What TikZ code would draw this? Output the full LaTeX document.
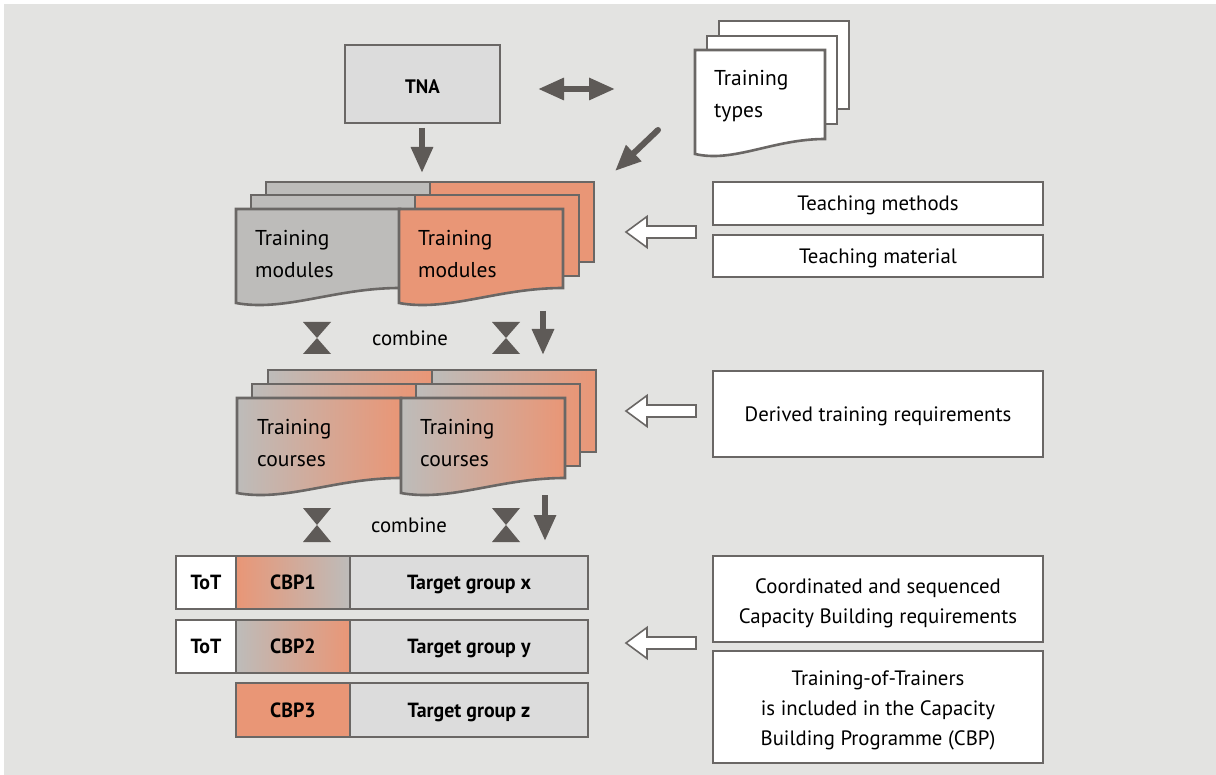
\documentclass[tikz,border=0pt]{standalone}
\usepackage{fontspec}
\setmainfont{PT Sans}
\newfontfamily\cbfont{PT Sans}[FakeStretch=0.97]
\usetikzlibrary{arrows.meta}
\definecolor{bg}{HTML}{E3E3E1}
\definecolor{edge}{HTML}{6A6765}
\definecolor{arr}{HTML}{5E5A57}
\definecolor{gfill}{HTML}{BDBCBA}
\definecolor{ofill}{HTML}{E99676}
\definecolor{lgfill}{HTML}{DCDCDC}
\newcommand\DocPage[5]{\path[pageline,#5] (#1,#2) -- (#3,#2) -- (#3,{#4-15}) .. controls ({#3-0.4*(#3-#1)},{#4-15}) and ({#1+0.3*(#3-#1)},{#4+9}) .. (#1,#4) -- cycle;}
\newcommand\BackPage[5]{\path[pageline,#5] (#1,#2) rectangle (#3,#4);}
\newcommand\BowTie[3]{\fill[arr] ({#1-14},{#2-#3}) -- ({#1+14},{#2-#3}) -- (#1,#2) -- cycle ({#1-14},{#2+#3}) -- ({#1+14},{#2+#3}) -- (#1,#2) -- cycle;}
\begin{document}
\begin{tikzpicture}[x=1pt,y=-1pt,
  pageline/.style={draw=edge,line width=2.6pt,line join=miter},
  grad/.style={left color=gfill,right color=ofill},
  dgrad/.style={left color=ofill,right color=gfill},
  wbox/.style={draw=edge,line width=2.6pt,fill=white,align=center,inner sep=0pt},
  cell/.style={draw=edge,line width=2.6pt,inner sep=0pt,text height=14.5pt,text depth=0pt,font=\cbfont\bfseries\fontsize{20.5}{24}\selectfont},
  doctext/.style={anchor=west,align=left,inner sep=0pt,font=\fontsize{21.5}{32}\selectfont},
  boxtext/.style={text height=14.5pt,text depth=0pt,font=\fontsize{20.8}{30}\selectfont},
  mltext/.style={align=center,inner sep=0pt,font=\fontsize{20.8}{30}\selectfont},
  bigarrow/.style={draw=arr,line width=6pt,-{Triangle[length=26pt,width=21pt]}},
  dblarrow/.style={draw=arr,line width=6pt,{Triangle[length=26pt,width=21pt]}-{Triangle[length=26pt,width=21pt]}},
  hollow/.style={draw=edge,fill=white,line width=1.6pt,line join=miter}
]
\fill[white] (0,0) rectangle (1216,775);
\fill[bg] (4,4) rectangle (1216,775);
\useasboundingbox (0,0) rectangle (1216,775);

% TNA
\node[draw=edge,line width=2.6pt,fill=lgfill,minimum width=155pt,minimum height=78pt,inner sep=0pt,text height=13.5pt,text depth=0pt,font=\cbfont\bfseries\fontsize{19.5}{22}\selectfont] (tna) at (422.5,84) {\raisebox{-2.5pt}{TNA}};

% Training types stack
\BackPage{719}{21}{849}{109}{fill=white}
\BackPage{707}{36}{837}{124}{fill=white}
\DocPage{695}{50}{825}{154}{fill=white}
\node[doctext] (types) at (714,96) {Training\\types};

% Training modules stacks
\BackPage{266}{182}{430}{262}{fill=gfill}
\BackPage{430}{182}{594}{262}{fill=ofill}
\BackPage{251}{195}{415}{276}{fill=gfill}
\BackPage{415}{195}{579}{276}{fill=ofill}
\DocPage{236}{209}{400}{303}{fill=gfill}
\DocPage{399}{209}{563}{303}{fill=ofill}
\node[doctext] (modA) at (255,254) {Training\\modules};
\node[doctext] (modB) at (418,254) {Training\\modules};

% Training courses stacks
\BackPage{268}{370}{432}{452}{grad}
\BackPage{432}{370}{596}{452}{grad}
\BackPage{252}{384}{416}{466}{grad}
\BackPage{416}{384}{580}{466}{grad}
\DocPage{237}{398}{401}{493}{grad}
\DocPage{401}{398}{565}{493}{grad}
\node[doctext] (crsA) at (257,443.5) {Training\\courses};
\node[doctext] (crsB) at (420,443.5) {Training\\courses};

% combine rows
\BowTie{317}{338}{16}
\BowTie{506}{338}{16}
\node[boxtext] (comb1) at (410,338) {combine};
\BowTie{317}{525}{17}
\BowTie{506}{525}{17}
\node[boxtext] (comb2) at (409,525) {combine};

% CBP rows
\node[cell,fill=white,minimum width=60pt,minimum height=53pt] (tot1) at (206,582.5) {ToT};
\node[cell,dgrad,minimum width=114pt,minimum height=53pt] (cbp1) at (293,582.5) {CBP1};
\node[cell,fill=lgfill,minimum width=238pt,minimum height=53pt] (tgx) at (469,582.5) {Target group x};
\node[cell,fill=white,minimum width=60pt,minimum height=53pt] (tot2) at (206,646.5) {ToT};
\node[cell,grad,minimum width=114pt,minimum height=53pt] (cbp2) at (293,646.5) {CBP2};
\node[cell,fill=lgfill,minimum width=238pt,minimum height=53pt] (tgy) at (469,646.5) {Target group y};
\node[cell,fill=ofill,minimum width=114pt,minimum height=54pt] (cbp3) at (293,710) {CBP3};
\node[cell,fill=lgfill,minimum width=238pt,minimum height=54pt] (tgz) at (469,710) {Target group z};

% right boxes
\node[wbox,boxtext,minimum width=330pt,minimum height=43pt] (tmeth) at (878,203.5) {Teaching methods};
\node[wbox,boxtext,minimum width=330pt,minimum height=42pt] (tmat) at (878,256) {Teaching material};
\node[wbox,boxtext,minimum width=330pt,minimum height=86pt] (dtr) at (878,414) {Derived training requirements};
\node[wbox,minimum width=330pt,minimum height=86pt] (coord) at (878,599) {};
\node[mltext] (coordT) at ([yshift=-4pt]coord.center) {Coordinated and sequenced\\Capacity Building requirements};
\node[wbox,minimum width=330pt,minimum height=112pt] (totb) at (878,707) {};
\node[mltext] (totbT) at ([yshift=-3pt]totb.center) {Training-of-Trainers\\is included in the Capacity\\Building Programme (CBP)};

% filled arrows
\coordinate (dA1) at (538,89);
\coordinate (dA2) at (615,89);
\draw[dblarrow] (dA1) -- (dA2);
\coordinate (tnaS) at (422,128);
\coordinate (tnaE) at (422,173);
\draw[bigarrow] (tnaS) -- (tnaE);
\coordinate (diagS) at (658,130);
\coordinate (diagE) at (615,171);
\draw[bigarrow,line cap=round] (diagS) -- (diagE);
\coordinate (c1S) at (543,311);
\coordinate (c1E) at (543,355);
\draw[bigarrow] (c1S) -- (c1E);
\coordinate (c2S) at (545,495);
\coordinate (c2E) at (545,541);
\draw[bigarrow] (c2S) -- (c2E);

% hollow arrows
\foreach \n/\yy in {h1/232,h2/411,h3/643}{
  \coordinate (\n) at (696,\yy);
  \path[hollow] (\n) ++(0,-6) -- ++(-49,0) -- ++(0,-9.5) -- ++(-21,15.5) -- ++(21,15.5) -- ++(0,-9.5) -- ++(49,0) -- cycle;
}
\end{tikzpicture}
\end{document}
